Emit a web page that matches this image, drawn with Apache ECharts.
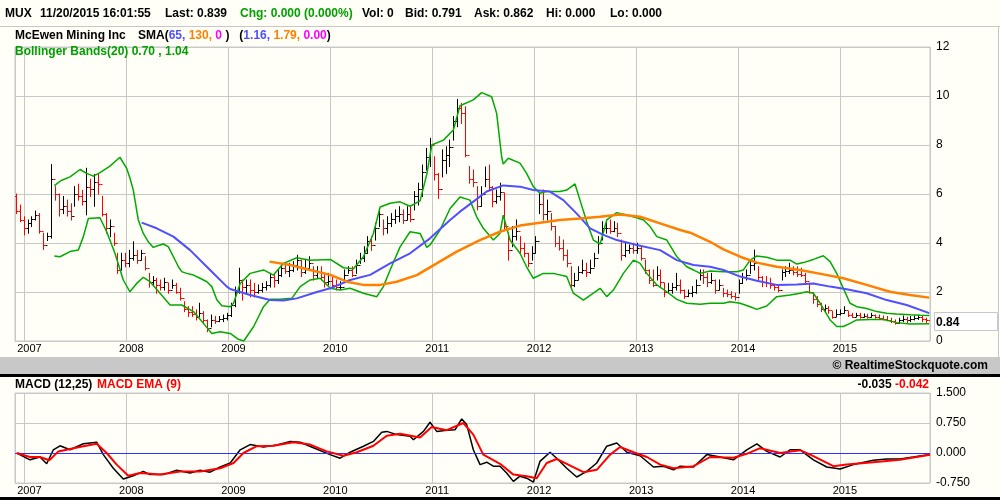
<!DOCTYPE html>
<html>
<head>
<meta charset="utf-8">
<script src="https://cdn.jsdelivr.net/npm/echarts@6.0.0/dist/echarts.min.js"></script>
<style>
html, body { margin: 0; padding: 0; background: #FFFFF7; }
#chart { width: 1000px; height: 500px; }
</style>
</head>
<body>
<div id="chart"></div>
<script>
// MUX weekly-ish price chart (bars every 2 weeks) with SMA, Bollinger and MACD panel.
var barStart = Date.UTC(2006, 11, 1);
var barStepDays = 14;

// bar highs / lows / closes, one per 2 weeks
var highs = [
  6.0, 5.55, 5.07, 4.94, 5.07, 5.3, 5.2, 4.4, 4.4, 7.2,
  6.3, 6.0, 5.9, 5.75, 5.6, 6.3, 6.4, 6.15, 7.05, 6.6,
  6.8, 6.8, 5.9, 5.2, 4.94, 4.4, 3.58, 3.58, 3.58, 3.7,
  4.05, 3.7, 3.7, 3.44, 2.76, 2.63, 2.56, 2.49, 2.56, 2.35,
  2.49, 2.35, 2.15, 1.6, 1.4, 1.4, 1.27, 1.54, 1.2, 0.86,
  1.06, 1.0, 1.0, 1.06, 1.13, 1.54, 2.2, 2.97, 2.49, 2.49,
  2.49, 2.35, 2.29, 2.35, 2.42, 2.76, 2.76, 2.9, 3.17, 3.1,
  3.17, 3.24, 3.5, 3.3, 3.3, 3.44, 3.03, 3.03, 3.03, 2.76,
  2.76, 2.63, 2.49, 2.42, 2.9, 3.03, 3.03, 3.3, 3.58, 3.85,
  4.26, 4.26, 4.8, 5.4, 4.94, 5.07, 5.2, 5.35, 5.48, 5.35,
  5.48, 5.48, 6.1, 6.44, 7.18, 7.86, 8.27, 7.52, 6.84, 7.8,
  7.93, 8.2, 9.16, 9.86, 9.7, 9.56, 7.12, 6.98, 6.3, 6.3,
  7.1, 7.18, 6.3, 6.16, 6.44, 6.03, 4.4, 4.67, 4.94, 4.26,
  3.99, 3.58, 3.85, 4.26, 6.03, 6.16, 5.75, 5.2, 4.67, 4.26,
  4.12, 3.71, 3.03, 2.76, 3.03, 3.3, 3.17, 3.3, 3.58, 4.26,
  4.87, 4.94, 4.94, 4.87, 4.8, 4.12, 3.99, 3.92, 3.99, 3.99,
  3.85, 3.3, 2.9, 2.9, 3.03, 2.9, 2.35, 2.35, 2.35, 2.76,
  2.49, 2.08, 2.08, 2.22, 2.49, 2.9, 2.9, 2.76, 2.76, 2.49,
  2.49, 2.15, 2.08, 2.01, 1.95, 2.49, 2.76, 2.9, 3.3, 3.71,
  3.03, 2.63, 2.63, 2.56, 2.29, 2.22, 2.9, 3.03, 3.17, 3.03,
  3.03, 2.97, 2.76, 2.35, 1.95, 1.81, 1.54, 1.47, 1.4, 1.2,
  1.27, 1.27, 1.4, 1.2, 1.13, 1.13, 1.13, 1.1, 1.09, 1.13,
  1.06, 1.06, 1.02, 1.0, 0.93, 0.86, 0.93, 1.02, 0.97, 1.0,
  1.02, 1.05, 1.0, 0.93, 0.9
];
var lows = [
  5.2, 4.87, 4.33, 4.4, 4.67, 4.94, 4.4, 3.74, 4.1, 4.2,
  5.75, 5.1, 5.2, 5.1, 4.94, 5.5, 5.75, 5.55, 5.15, 5.9,
  5.5, 6.0, 5.1, 4.4, 4.26, 3.9, 2.76, 2.9, 3.03, 3.03,
  3.3, 3.17, 3.3, 2.9, 2.2, 2.29, 1.95, 2.08, 2.08, 1.95,
  2.15, 1.95, 1.67, 1.2, 1.0, 1.0, 0.86, 1.0, 0.72, 0.38,
  0.58, 0.72, 0.79, 0.79, 0.86, 1.0, 1.4, 1.95, 1.67, 1.95,
  1.8, 1.8, 1.95, 2.0, 2.08, 2.2, 2.2, 2.35, 2.63, 2.76,
  2.63, 2.83, 2.9, 2.63, 2.76, 2.9, 2.49, 2.56, 2.49, 2.2,
  2.29, 2.2, 2.08, 2.1, 2.49, 2.76, 2.63, 2.76, 3.17, 3.24,
  3.58, 3.7, 4.12, 4.67, 4.33, 4.4, 4.67, 4.8, 4.87, 4.8,
  4.94, 4.87, 5.35, 5.55, 5.9, 6.98, 7.12, 6.57, 5.82, 6.7,
  6.84, 7.12, 8.2, 8.75, 8.88, 7.52, 6.44, 6.3, 5.35, 5.5,
  6.3, 6.16, 5.48, 5.62, 5.75, 4.53, 3.3, 3.85, 4.12, 3.58,
  3.44, 3.03, 3.3, 3.58, 5.2, 4.94, 4.94, 4.53, 3.85, 3.71,
  3.3, 3.03, 2.15, 2.22, 2.49, 2.76, 2.63, 2.76, 3.03, 3.58,
  4.12, 4.4, 4.4, 4.46, 4.26, 3.3, 3.44, 3.58, 3.58, 3.58,
  3.3, 2.76, 2.35, 2.22, 2.49, 2.22, 1.81, 1.95, 1.95, 2.08,
  1.95, 1.74, 1.81, 1.81, 1.95, 2.49, 2.35, 2.22, 2.35, 1.95,
  2.08, 1.81, 1.81, 1.74, 1.67, 1.95, 2.35, 2.49, 2.76, 2.9,
  2.49, 2.22, 2.22, 2.15, 2.08, 2.01, 2.49, 2.63, 2.76, 2.7,
  2.63, 2.63, 2.35, 1.95, 1.54, 1.4, 1.2, 1.2, 1.13, 0.93,
  1.0, 1.06, 1.13, 1.0, 0.97, 1.0, 0.93, 0.97, 0.93, 0.97,
  0.93, 0.88, 0.86, 0.83, 0.75, 0.69, 0.72, 0.79, 0.75, 0.79,
  0.86, 0.88, 0.79, 0.75, 0.0
];
var closes = [
  5.3, 4.95, 4.6, 4.8, 5.0, 5.15, 4.5, 3.9, 4.3, 6.6,
  6.0, 5.4, 5.5, 5.3, 5.1, 6.0, 5.9, 5.7, 6.3, 6.2,
  6.5, 6.4, 5.2, 4.6, 4.7, 4.0, 2.9, 3.3, 3.2, 3.4,
  3.5, 3.3, 3.6, 3.0, 2.4, 2.5, 2.3, 2.2, 2.4, 2.1,
  2.3, 2.0, 1.75, 1.3, 1.2, 1.1, 1.0, 1.15, 0.85, 0.55,
  0.85, 0.8, 0.9, 0.95, 1.05, 1.45, 2.0, 2.5, 2.2, 2.3,
  2.1, 2.0, 2.1, 2.2, 2.3, 2.6, 2.5, 2.7, 3.0, 2.85,
  2.9, 3.1, 3.3, 2.8, 3.0, 3.2, 2.7, 2.8, 2.6, 2.4,
  2.45, 2.3, 2.2, 2.2, 2.7, 2.9, 2.7, 3.1, 3.4, 3.6,
  4.1, 3.9, 4.6, 5.2, 4.6, 4.8, 5.0, 5.1, 5.2, 4.95,
  5.2, 5.0, 5.9, 6.2, 6.9, 7.5, 8.0, 6.8, 6.2, 7.4,
  7.6, 7.9, 9.0, 9.5, 9.3, 7.6, 6.6, 6.5, 5.5, 6.0,
  6.6, 6.3, 5.7, 5.9, 6.1, 4.7, 3.7, 4.3, 4.5, 3.8,
  3.6, 3.2, 3.6, 4.1, 5.6, 5.2, 5.3, 4.7, 4.0, 3.8,
  3.5, 3.2, 2.3, 2.5, 2.8, 2.9, 2.8, 3.0, 3.4, 4.0,
  4.6, 4.6, 4.5, 4.6, 4.4, 3.5, 3.7, 3.8, 3.7, 3.8,
  3.4, 2.9, 2.5, 2.3, 2.7, 2.4, 2.0, 2.1, 2.2, 2.3,
  2.1, 1.85, 1.95, 2.0, 2.3, 2.7, 2.6, 2.4, 2.5, 2.1,
  2.3, 1.95, 1.9, 1.85, 1.8, 2.35, 2.6, 2.7, 3.1, 3.2,
  2.6, 2.4, 2.35, 2.3, 2.2, 2.1, 2.8, 2.85, 2.9, 2.8,
  2.75, 2.7, 2.45, 2.0, 1.7, 1.5, 1.3, 1.35, 1.25, 1.0,
  1.1, 1.15, 1.25, 1.05, 1.0, 1.05, 1.0, 1.02, 1.0, 1.05,
  0.97, 0.93, 0.9, 0.87, 0.8, 0.75, 0.85, 0.9, 0.85, 0.9,
  0.95, 0.97, 0.88, 0.85, 0.84
];
var firstOpen = 5.9;

// indicator lines: [decimal year, value]
var sma65 = [
  [2008.150,4.83],[2008.297,4.60],[2008.461,4.26],[2008.624,3.71],[2008.820,2.90],[2008.984,2.22],
  [2009.017,2.12],[2009.213,1.88],[2009.409,1.67],[2009.540,1.65],[2009.671,1.74],[2009.867,2.00],
  [2010.000,2.15],[2010.194,2.49],[2010.391,2.70],[2010.587,3.17],[2010.783,3.58],[2010.979,4.19],
  [2011.176,4.94],[2011.273,5.28],[2011.404,5.69],[2011.535,6.10],[2011.698,6.35],[2011.862,6.30],
  [2011.993,6.16],[2012.156,6.10],[2012.287,5.75],[2012.418,5.20],[2012.549,4.60],[2012.679,4.33],
  [2012.810,4.12],[2013.006,3.92],[2013.235,3.71],[2013.399,3.30],[2013.562,3.10],[2013.726,3.03],
  [2013.857,2.90],[2014.021,2.63],[2014.184,2.46],[2014.380,2.29],[2014.577,2.31],[2014.740,2.35],
  [2014.904,2.22],[2015.067,2.11],[2015.263,1.95],[2015.460,1.67],[2015.656,1.47],[2015.878,1.14]
];
var sma130 = [
  [2009.403,3.24],[2009.606,3.10],[2009.802,2.90],[2010.000,2.70],[2010.162,2.42],[2010.325,2.29],
  [2010.489,2.29],[2010.652,2.42],[2010.849,2.69],[2011.045,3.17],[2011.241,3.65],[2011.469,4.12],
  [2011.665,4.46],[2011.862,4.71],[2012.058,4.83],[2012.254,4.94],[2012.450,5.00],[2012.647,5.07],
  [2012.843,5.16],[2013.039,5.07],[2013.235,4.80],[2013.432,4.53],[2013.530,4.42],[2013.726,4.05],
  [2013.857,3.74],[2014.021,3.44],[2014.184,3.20],[2014.380,3.03],[2014.609,2.90],[2014.838,2.72],
  [2015.034,2.56],[2015.263,2.29],[2015.492,2.01],[2015.689,1.88],[2015.878,1.77]
];
var bbUpper = [
  [2007.293,6.34],[2007.360,6.55],[2007.447,6.70],[2007.545,7.00],[2007.610,6.84],[2007.676,6.73],
  [2007.741,6.87],[2007.839,7.14],[2007.937,7.50],[2008.003,7.05],[2008.035,6.65],[2008.068,6.16],
  [2008.117,4.94],[2008.166,4.39],[2008.215,4.05],[2008.264,3.82],[2008.313,3.90],[2008.363,3.96],
  [2008.412,3.84],[2008.461,3.44],[2008.510,3.03],[2008.542,2.83],[2008.591,2.76],[2008.657,2.69],
  [2008.722,2.56],[2008.788,2.42],[2008.837,2.22],[2008.886,1.68],[2008.935,1.44],[2009.017,1.40],
  [2009.050,1.54],[2009.115,2.35],[2009.213,2.76],[2009.344,2.90],[2009.442,2.69],[2009.540,3.17],
  [2009.671,3.40],[2009.802,3.30],[2010.000,3.33],[2010.129,2.99],[2010.227,2.95],[2010.325,3.44],
  [2010.423,4.39],[2010.489,5.47],[2010.587,5.62],[2010.685,5.68],[2010.783,5.50],[2010.881,5.72],
  [2010.947,6.80],[2010.996,8.00],[2011.110,8.20],[2011.208,8.61],[2011.273,9.60],[2011.404,9.84],
  [2011.486,10.14],[2011.584,9.97],[2011.633,9.29],[2011.682,7.52],[2011.698,7.22],[2011.747,7.46],
  [2011.862,7.26],[2011.927,6.84],[2011.993,6.30],[2012.058,6.03],[2012.123,6.10],[2012.254,6.10],
  [2012.320,6.16],[2012.401,6.41],[2012.450,5.75],[2012.516,4.87],[2012.581,4.12],[2012.647,3.96],
  [2012.712,4.94],[2012.810,5.24],[2012.908,5.14],[2013.006,5.03],[2013.072,4.94],[2013.137,4.67],
  [2013.203,4.26],[2013.301,4.12],[2013.399,3.44],[2013.497,3.03],[2013.562,2.90],[2013.628,2.76],
  [2013.726,2.86],[2013.857,2.83],[2013.988,2.83],[2014.053,2.90],[2014.119,3.30],[2014.184,3.47],
  [2014.282,3.42],[2014.380,3.30],[2014.511,3.30],[2014.577,3.14],[2014.642,3.20],[2014.740,3.33],
  [2014.838,3.48],[2014.904,3.24],[2014.969,2.76],[2015.034,2.15],[2015.100,1.54],[2015.165,1.40],
  [2015.263,1.33],[2015.362,1.20],[2015.460,1.13],[2015.558,1.10],[2015.689,1.07],[2015.787,1.05],
  [2015.878,1.04]
];
var bbLower = [
  [2007.293,3.47],[2007.349,3.44],[2007.447,3.65],[2007.529,3.71],[2007.578,4.26],[2007.627,5.00],
  [2007.741,5.03],[2007.807,4.46],[2007.888,3.58],[2007.970,2.49],[2008.035,2.01],[2008.101,2.35],
  [2008.166,2.60],[2008.232,2.42],[2008.330,1.95],[2008.428,1.47],[2008.542,1.47],[2008.657,1.20],
  [2008.755,0.72],[2008.837,0.31],[2008.919,0.38],[2009.017,0.31],[2009.098,0.07],[2009.150,0.00],
  [2009.246,0.58],[2009.344,1.40],[2009.409,1.70],[2009.507,1.70],[2009.622,1.74],[2009.704,2.22],
  [2009.802,2.49],[2009.900,2.56],[2010.000,2.15],[2010.096,2.08],[2010.194,2.15],[2010.325,1.95],
  [2010.456,1.81],[2010.521,2.22],[2010.587,2.90],[2010.685,3.84],[2010.783,4.46],[2010.881,4.39],
  [2010.947,3.82],[2010.979,3.92],[2011.077,4.53],[2011.176,5.41],[2011.273,5.88],[2011.371,5.75],
  [2011.437,5.07],[2011.502,4.60],[2011.600,4.12],[2011.665,4.39],[2011.698,5.14],[2011.764,4.12],
  [2011.862,3.58],[2011.927,3.03],[2011.993,2.56],[2012.091,2.76],[2012.189,2.76],[2012.320,2.63],
  [2012.385,1.95],[2012.483,1.67],[2012.581,1.95],[2012.647,2.15],[2012.712,1.81],[2012.777,2.08],
  [2012.875,2.76],[2012.974,3.30],[2013.039,3.17],[2013.104,2.76],[2013.203,2.29],[2013.301,2.01],
  [2013.399,1.70],[2013.497,1.54],[2013.628,1.50],[2013.726,1.54],[2013.857,1.54],[2013.922,1.60],
  [2014.021,1.54],[2014.119,1.40],[2014.184,1.29],[2014.282,1.43],[2014.380,1.81],[2014.511,1.88],
  [2014.609,1.95],[2014.675,2.01],[2014.740,1.95],[2014.806,1.54],[2014.904,0.86],[2014.969,0.59],
  [2015.034,0.59],[2015.100,0.72],[2015.165,0.86],[2015.296,0.88],[2015.427,0.88],[2015.558,0.75],
  [2015.689,0.69],[2015.878,0.70]
];
var macd = [
  [2006.924,0.00],[2007.054,-0.17],[2007.152,-0.10],[2007.218,-0.27],[2007.283,0.08],[2007.349,0.18],
  [2007.447,0.08],[2007.578,0.23],[2007.709,0.27],[2007.774,-0.04],[2007.872,-0.38],[2007.970,-0.65],
  [2008.068,-0.57],[2008.166,-0.46],[2008.232,-0.54],[2008.363,-0.54],[2008.493,-0.43],[2008.624,-0.50],
  [2008.722,-0.43],[2008.820,-0.48],[2008.919,-0.35],[2009.017,-0.25],[2009.115,0.08],[2009.213,0.21],
  [2009.344,0.15],[2009.475,0.20],[2009.606,0.29],[2009.704,0.27],[2009.834,0.13],[2009.998,-0.04],
  [2010.096,-0.13],[2010.194,0.02],[2010.325,0.17],[2010.423,0.29],[2010.505,0.52],[2010.554,0.54],
  [2010.652,0.46],[2010.783,0.42],[2010.816,0.33],[2010.914,0.54],[2010.979,0.77],[2011.045,0.54],
  [2011.143,0.57],[2011.224,0.58],[2011.290,0.85],[2011.339,0.71],[2011.404,0.08],[2011.470,-0.29],
  [2011.535,-0.23],[2011.600,-0.33],[2011.666,-0.33],[2011.731,-0.50],[2011.797,-0.71],[2011.862,-0.58],
  [2011.928,-0.63],[2011.993,-0.73],[2012.058,-0.21],[2012.157,0.02],[2012.222,-0.13],[2012.320,-0.38],
  [2012.418,-0.60],[2012.516,-0.46],[2012.614,-0.25],[2012.712,0.17],[2012.810,0.25],[2012.909,0.02],
  [2013.039,-0.07],[2013.170,-0.35],[2013.268,-0.33],[2013.367,-0.42],[2013.432,-0.33],[2013.563,-0.35],
  [2013.694,-0.04],[2013.825,-0.10],[2013.955,-0.17],[2014.086,0.08],[2014.185,0.23],[2014.283,0.04],
  [2014.413,-0.10],[2014.511,0.08],[2014.610,0.08],[2014.740,-0.17],[2014.871,-0.35],[2015.002,-0.40],
  [2015.133,-0.29],[2015.329,-0.18],[2015.460,-0.15],[2015.590,-0.15],[2015.721,-0.10],[2015.885,-0.035]
];
var macdEma = [
  [2006.924,0.00],[2007.054,-0.10],[2007.152,-0.10],[2007.244,-0.18],[2007.333,0.04],[2007.447,0.10],
  [2007.578,0.17],[2007.709,0.23],[2007.807,0.00],[2007.905,-0.29],[2008.019,-0.57],[2008.134,-0.50],
  [2008.330,-0.54],[2008.526,-0.46],[2008.722,-0.46],[2008.919,-0.38],[2009.050,-0.25],[2009.147,0.00],
  [2009.278,0.17],[2009.442,0.18],[2009.638,0.27],[2009.802,0.21],[2009.965,0.04],[2010.129,-0.07],
  [2010.260,0.02],[2010.423,0.18],[2010.554,0.43],[2010.685,0.48],[2010.881,0.39],[2010.995,0.65],
  [2011.143,0.57],[2011.306,0.75],[2011.404,0.46],[2011.502,-0.04],[2011.600,-0.18],[2011.666,-0.27],
  [2011.797,-0.54],[2011.928,-0.58],[2012.026,-0.63],[2012.124,-0.25],[2012.222,-0.15],[2012.320,-0.27],
  [2012.484,-0.48],[2012.614,-0.42],[2012.745,-0.04],[2012.843,0.15],[2012.974,0.02],[2013.105,-0.10],
  [2013.236,-0.29],[2013.367,-0.38],[2013.563,-0.33],[2013.726,-0.10],[2013.955,-0.12],[2014.086,-0.02],
  [2014.217,0.12],[2014.413,0.00],[2014.610,0.07],[2014.740,-0.08],[2014.937,-0.33],[2015.067,-0.29],
  [2015.329,-0.23],[2015.590,-0.17],[2015.885,-0.042]
];

var priceTicks = { min: 0, max: 12, interval: 2 };
var macdTicks = { min: -0.75, max: 1.5, interval: 0.75 };

var FONT = "'Liberation Sans', Arial, sans-serif";
var GRID_COLOR = '#C8C8C8';
var DAY = 864e5;

function yearToTime(y) {
    var Y = Math.floor(y);
    var a = Date.UTC(Y, 0, 1), b = Date.UTC(Y + 1, 0, 1);
    return a + (y - Y) * (b - a);
}
function toTime(pairs) {
    return pairs.map(function(p) { return [yearToTime(p[0]), p[1]]; });
}

var ohlc = closes.map(function(c, i) {
    var o = i === 0 ? firstOpen : closes[i - 1];
    return [barStart + i * barStepDays * DAY, o, highs[i], lows[i], c];
});

function renderBar(params, api) {
    var t = api.value(0), o = api.value(1), h = api.value(2), l = api.value(3), c = api.value(4);
    var ph = api.coord([t, h]), pl = api.coord([t, l]);
    var po = api.coord([t, o]), pc = api.coord([t, c]);
    var x = Math.round(ph[0]) + 0.5;
    var yo = Math.round(po[1]) + 0.5, yc = Math.round(pc[1]) + 0.5;
    var st = { stroke: c >= o ? '#000000' : '#FF0000', lineWidth: 1 };
    return {
        type: 'group',
        children: [
            { type: 'line', shape: { x1: x, y1: ph[1] - 0.5, x2: x, y2: pl[1] + 0.5 }, style: st },
            { type: 'line', shape: { x1: x - 2, y1: yo, x2: x, y2: yo }, style: st },
            { type: 'line', shape: { x1: x, y1: yc, x2: x + 2, y2: yc }, style: st }
        ]
    };
}

var tMin = Date.UTC(2006, 10, 28);
var tMax = Date.UTC(2015, 10, 20);

function timeAxis(gridIndex, margin) {
    return {
        type: 'time', gridIndex: gridIndex, min: tMin, max: tMax,
        minInterval: 360 * DAY, maxInterval: 370 * DAY,
        axisLine: { show: false }, axisTick: { show: false },
        splitLine: { show: true, lineStyle: { color: GRID_COLOR, width: 1 } },
        axisLabel: {
            formatter: '{yyyy}', color: '#000', fontSize: 11, fontFamily: FONT,
            margin: margin, padding: [0, 0, 0, 10], showMinLabel: false, showMaxLabel: false
        }
    };
}

var chart = echarts.init(document.getElementById('chart'), null, { renderer: 'canvas' });

chart.setOption({
    animation: false,
    backgroundColor: '#FFFFF7',
    grid: [
        { left: 15, right: 70, top: 47, height: 294, show: true, borderColor: GRID_COLOR, borderWidth: 1 },
        { left: 15, right: 70, top: 393, height: 90, show: true, borderColor: GRID_COLOR, borderWidth: 1 }
    ],
    xAxis: [timeAxis(0, 2), timeAxis(1, 2)],
    yAxis: [
        {
            type: 'value', gridIndex: 0, position: 'right',
            min: priceTicks.min, max: priceTicks.max, interval: priceTicks.interval,
            axisLine: { show: false }, axisTick: { show: false },
            splitLine: { lineStyle: { color: GRID_COLOR } },
            axisLabel: { color: '#000', fontSize: 12, fontFamily: FONT, margin: 6 }
        },
        {
            type: 'value', gridIndex: 1, position: 'right',
            min: macdTicks.min, max: macdTicks.max, interval: macdTicks.interval,
            axisLine: { show: false }, axisTick: { show: false },
            splitLine: { lineStyle: { color: GRID_COLOR } },
            axisLabel: {
                color: '#000', fontSize: 12, fontFamily: FONT, margin: 6,
                formatter: function(v) { return v.toFixed(3); }
            }
        }
    ],
    series: [
        {
            type: 'custom', name: 'MUX', xAxisIndex: 0, yAxisIndex: 0,
            renderItem: renderBar, data: ohlc, encode: { x: 0, y: [1, 2, 3, 4] },
            clip: true, silent: true, z: 1
        },
        {
            type: 'line', name: 'BB upper', xAxisIndex: 0, yAxisIndex: 0, data: toTime(bbUpper),
            showSymbol: false, silent: true, z: 3, lineStyle: { color: '#00AA00', width: 1.5 }
        },
        {
            type: 'line', name: 'BB lower', xAxisIndex: 0, yAxisIndex: 0, data: toTime(bbLower),
            showSymbol: false, silent: true, z: 3, lineStyle: { color: '#00AA00', width: 1.5 }
        },
        {
            type: 'line', name: 'SMA65', xAxisIndex: 0, yAxisIndex: 0, data: toTime(sma65),
            showSymbol: false, silent: true, z: 4, lineStyle: { color: '#4F4FFF', width: 2 }
        },
        {
            type: 'line', name: 'SMA130', xAxisIndex: 0, yAxisIndex: 0, data: toTime(sma130),
            showSymbol: false, silent: true, z: 4, lineStyle: { color: '#FF8000', width: 2.5 }
        },
        {
            type: 'line', name: 'MACD', xAxisIndex: 1, yAxisIndex: 1, data: toTime(macd),
            showSymbol: false, silent: true, z: 4, lineStyle: { color: '#000000', width: 1.5 },
            markLine: {
                silent: true, symbol: 'none', label: { show: false },
                lineStyle: { color: '#3030FF', width: 1, type: 'solid' },
                data: [{ yAxis: 0 }]
            }
        },
        {
            type: 'line', name: 'MACD EMA', xAxisIndex: 1, yAxisIndex: 1, data: toTime(macdEma),
            showSymbol: false, silent: true, z: 5, lineStyle: { color: '#FF0000', width: 2 }
        }
    ]
});

// header, legends and frame
function txt(x, y, text, color, size, extra) {
    var s = { text: text, fill: color || '#000', font: 'bold ' + (size || 12) + 'px ' + FONT, verticalAlign: 'middle' };
    if (extra) for (var k in extra) s[k] = extra[k];
    return { type: 'text', x: x, y: y, z: 100, style: s, silent: true };
}
var B = 'bold 12px ' + FONT;
var lastClose = closes[closes.length - 1];
var py = chart.convertToPixel({ yAxisIndex: 0 }, lastClose);

chart.setOption({
    graphic: [
        { type: 'line', shape: { x1: 0, y1: 26.5, x2: 1000, y2: 26.5 }, style: { stroke: GRID_COLOR, lineWidth: 1 }, silent: true },
        { type: 'line', shape: { x1: 998.5, y1: 26, x2: 998.5, y2: 357 }, style: { stroke: GRID_COLOR, lineWidth: 1 }, silent: true },
        txt(5, 13.5, 'MUX'),
        txt(40, 13.5, '11/20/2015 16:01:55'),
        txt(165, 13.5, 'Last: 0.839'),
        txt(240, 13.5, 'Chg: 0.000 (0.000%)', '#00A000'),
        txt(362, 13.5, 'Vol: 0'),
        txt(405, 13.5, 'Bid: 0.791'),
        txt(474, 13.5, 'Ask: 0.862'),
        txt(546, 13.5, 'Hi: 0.000'),
        txt(610, 13.5, 'Lo: 0.000'),
        txt(15, 36, 'McEwen Mining Inc'),
        txt(138, 36, '{k|SMA(}{b|65, }{o|130, }{m|0}{k| )   (}{b|1.16, }{o|1.79, }{m|0.00}{k|)}', '#000', 12, {
            rich: {
                k: { fill: '#000', font: B },
                b: { fill: '#4F4FFF', font: B },
                o: { fill: '#FF8000', font: B },
                m: { fill: '#FF00FF', font: B }
            }
        }),
        txt(15, 52, 'Bollinger Bands(20) 0.70 , 1.04', '#00A000'),
        { type: 'rect', shape: { x: 0, y: 357, width: 1000, height: 17 }, style: { fill: '#C8C8C8' }, silent: true },
        { type: 'rect', shape: { x: 0, y: 374, width: 1000, height: 3 }, style: { fill: '#000' }, silent: true },
        { type: 'rect', shape: { x: 0, y: 497, width: 1000, height: 3 }, style: { fill: '#000' }, silent: true },
        txt(988, 366, '\u00a9 RealtimeStockquote.com', '#000', 12, { align: 'right' }),
        txt(15, 385, 'MACD (12,25)'),
        txt(97, 385, 'MACD EMA (9)', '#FF0000'),
        txt(929, 385, '{k|-0.035 }{r|-0.042}', '#000', 12, {
            align: 'right',
            rich: { k: { fill: '#000', font: B }, r: { fill: '#FF0000', font: B } }
        }),
        { type: 'rect', shape: { x: 934.5, y: Math.round(py - 8) + 0.5, width: 63, height: 18 },
          style: { fill: '#FFFFFF', stroke: GRID_COLOR, lineWidth: 1 }, silent: true, z: 90 },
        txt(936, py + 2, lastClose.toFixed(2), '#000', 12)
    ]
});
</script>
</body>
</html>
